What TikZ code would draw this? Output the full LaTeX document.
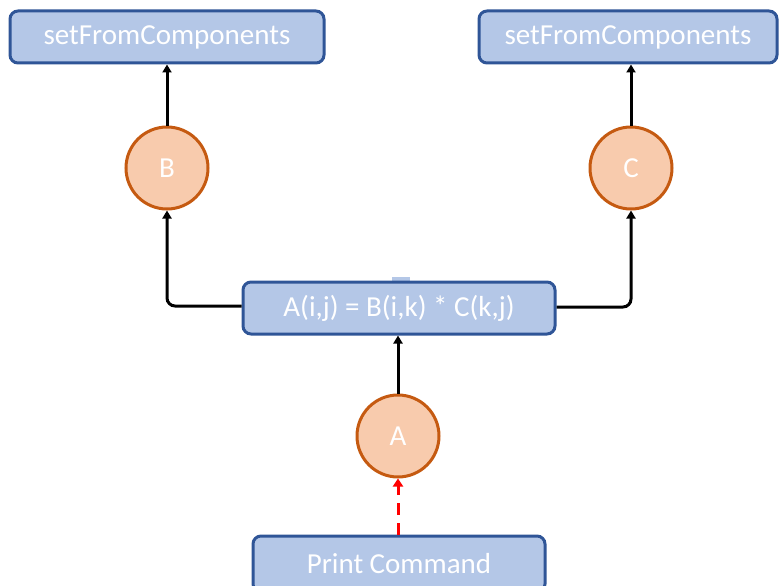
\documentclass[tikz,border=0pt]{standalone}
\usepackage{fontspec}
\setmainfont{Carlito}
\usetikzlibrary{arrows.meta}
\definecolor{boxfill}{HTML}{B4C7E7}
\definecolor{boxline}{HTML}{2F5597}
\definecolor{circfill}{HTML}{F8CBAD}
\definecolor{circline}{HTML}{C55A11}
\tikzset{
  cmdbox/.style={draw=boxline, fill=boxfill, line width=3pt, rounded corners=8pt,
    text=white, font=\fontsize{29}{34}\selectfont, inner sep=0pt, anchor=center},
  matnode/.style={circle, draw=circline, fill=circfill, line width=3pt,
    minimum size=82pt, inner sep=0pt, text=white, font=\fontsize{29}{34}\selectfont},
  link/.style={line width=3pt, -{Triangle[length=8pt,width=9pt]}},
  printlink/.style={line width=3pt, red, dash pattern=on 12pt off 8pt, -{Triangle[length=8pt,width=10pt]}}
}
\begin{document}
\begin{tikzpicture}[x=1pt,y=-1pt]
\useasboundingbox (0,0) rectangle (779,586);
% command boxes
\node[cmdbox, minimum width=314pt, minimum height=52pt] (setB) at (167,37) {setFromComponents};
\node[cmdbox, minimum width=298pt, minimum height=52pt] (setC) at (628,37) {setFromComponents};
\fill[boxfill] (392,277) rectangle (410,283);
\node[cmdbox, minimum width=312pt, minimum height=52pt] (mult) at (399,308) {A(i,j) = B(i,k) * C(k,j)};
\node[cmdbox, minimum width=292pt, minimum height=56pt] (print) at (399,564) {Print Command};
% matrices
\node[matnode] (B) at (167,168) {B};
\node[matnode] (C) at (631,168) {C};
\node[matnode] (A) at (398,436) {A};
% connectors
\draw[link] (B.north) -- (B.north |- setB.south);
\draw[link] (C.north) -- (C.north |- setC.south);
\draw[link, rounded corners=8pt] (mult.west) ++(0,-2) -- (B.south |- 0,306) -- (B.south);
\draw[link, rounded corners=8pt] (mult.east) ++(0,-1) -- (C.south |- 0,307) -- (C.south);
\draw[link] (A.north) -- (A.north |- mult.south);
\draw[printlink] (A.south |- print.north) -- (A.south);
\end{tikzpicture}
\end{document}
